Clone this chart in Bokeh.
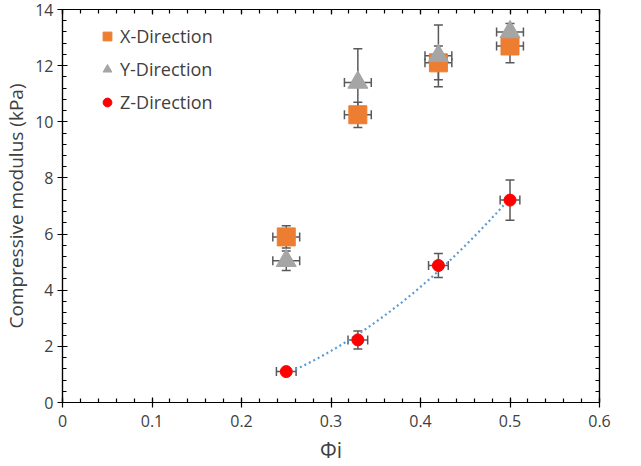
import numpy as np
from bokeh.plotting import figure
from bokeh.models import (Whisker, TeeHead, ColumnDataSource, LinearAxis, Legend, LegendItem,
                          FixedTicker, Range1d, CustomJSTickFormatter)
from bokeh.embed import file_html
from bokeh.resources import INLINE

# ---- data ----
phi = [0.25, 0.33, 0.42, 0.50]
x_dir = [5.9, 10.25, 12.1, 12.7]
x_dir_err = [0.4, 0.45, 0.6, 0.6]
y_dir = [5.05, 11.4, 12.35, 13.2]
y_dir_err = [0.35, 1.2, 1.1, 0.3]
z_dir = [1.1, 2.23, 4.88, 7.21]
z_dir_err = [0.08, 0.32, 0.43, 0.72]
phi_err_xy = [0.015, 0.015, 0.015, 0.015]
phi_err_z = [0.011, 0.011, 0.011, 0.011]

FONT = "Open Sans"
ERR_COLOR = "#595959"

p = figure(width=625, height=466, output_backend="svg", toolbar_location=None,
           x_range=Range1d(0, 0.6), y_range=Range1d(0, 14),
           min_border_left=55, min_border_bottom=62, min_border_right=26, min_border_top=9)
p.xgrid.visible = False
p.ygrid.visible = False
p.outline_line_color = "black"
p.outline_line_width = 1.2
p.background_fill_color = "white"
p.border_fill_color = "white"

xticks = [0, 0.1, 0.2, 0.3, 0.4, 0.5, 0.6]
yticks = [0, 2, 4, 6, 8, 10, 12, 14]
xminor = [round(i * 0.02, 2) for i in range(31)]
yminor = [round(i * 0.4, 1) for i in range(36)]


def style_axis(ax, labels=True):
    ax.axis_line_color = "black"
    ax.axis_line_width = 1.2
    ax.major_tick_line_color = "black"
    ax.minor_tick_line_color = "black"
    ax.major_tick_line_width = 1.2
    ax.minor_tick_line_width = 1.2
    ax.major_tick_in = 5
    ax.major_tick_out = 5
    ax.minor_tick_in = 4
    ax.minor_tick_out = 0
    ax.major_label_text_font = FONT
    ax.major_label_text_font_size = "16px"
    ax.major_label_text_color = "#404040"
    if not labels:
        ax.formatter = CustomJSTickFormatter(code="return ''")
        ax.major_label_standoff = 0
        ax.major_tick_out = 0


for ax in p.xaxis:
    ax.ticker = FixedTicker(ticks=xticks, minor_ticks=xminor)
    style_axis(ax)
    ax.axis_label = "Φi"
    ax.axis_label_text_font = FONT
    ax.axis_label_text_font_size = "21px"
    ax.axis_label_text_font_style = "normal"
    ax.axis_label_text_color = "#404040"
    ax.axis_label_standoff = 6
    ax.major_label_standoff = 7
for ax in p.yaxis:
    ax.ticker = FixedTicker(ticks=yticks, minor_ticks=yminor)
    style_axis(ax)
    ax.axis_label = "Compressive modulus (kPa)"
    ax.axis_label_text_font = FONT
    ax.axis_label_text_font_size = "19px"
    ax.axis_label_text_font_style = "normal"
    ax.axis_label_text_color = "#404040"
    ax.axis_label_standoff = 3
    ax.major_label_standoff = 4

top = LinearAxis(ticker=FixedTicker(ticks=xticks, minor_ticks=xminor))
style_axis(top, labels=False)
p.add_layout(top, "above")
right = LinearAxis(ticker=FixedTicker(ticks=yticks, minor_ticks=yminor))
style_axis(right, labels=False)
p.add_layout(right, "right")

# trend line (quadratic fit of Z-direction)
coef = np.polyfit(phi, z_dir, 2)
xs = np.linspace(phi[0], phi[-1], 100)
p.line(xs, np.polyval(coef, xs), line_color="#5B9BD5", line_width=2.2, line_dash="2 3")


def add_err(xv, yv, yerr, xerr):
    src = ColumnDataSource(dict(
        x=xv, y=yv,
        ylo=[a - b for a, b in zip(yv, yerr)], yhi=[a + b for a, b in zip(yv, yerr)],
        xlo=[a - b for a, b in zip(xv, xerr)], xhi=[a + b for a, b in zip(xv, xerr)]))
    for dim, base, lo, hi in (("height", "x", "ylo", "yhi"), ("width", "y", "xlo", "xhi")):
        w = Whisker(source=src, base=base, lower=lo, upper=hi, dimension=dim,
                    line_color=ERR_COLOR, line_width=1.5, level="underlay",
                    upper_head=TeeHead(size=9, line_color=ERR_COLOR, line_width=1.5),
                    lower_head=TeeHead(size=9, line_color=ERR_COLOR, line_width=1.5))
        p.add_layout(w)


add_err(phi, x_dir, x_dir_err, phi_err_xy)
add_err(phi, y_dir, y_dir_err, phi_err_xy)
add_err(phi, z_dir, z_dir_err, phi_err_z)

rx = p.scatter(phi, x_dir, marker="square", size=18, fill_color="#ED7D31", line_color="#ED7D31")
ry = p.scatter(phi, y_dir, marker="triangle", size=20, fill_color="#A5A5A5", line_color="#A5A5A5")
rz = p.scatter(phi, z_dir, marker="circle", size=12, fill_color="#FF0000", line_color="#FF0000")

legend = Legend(items=[LegendItem(label="X-Direction", renderers=[rx]),
                       LegendItem(label="Y-Direction", renderers=[ry]),
                       LegendItem(label="Z-Direction", renderers=[rz])],
                location=(34, 288))
legend.border_line_color = None
legend.background_fill_alpha = 0
legend.label_text_font = FONT
legend.label_text_font_size = "18px"
legend.label_text_color = "#404040"
legend.spacing = 9
legend.glyph_width = 22
legend.glyph_height = 24
legend.label_standoff = 2
p.add_layout(legend, "center")

open("out.html", "w").write(file_html(p, INLINE))
